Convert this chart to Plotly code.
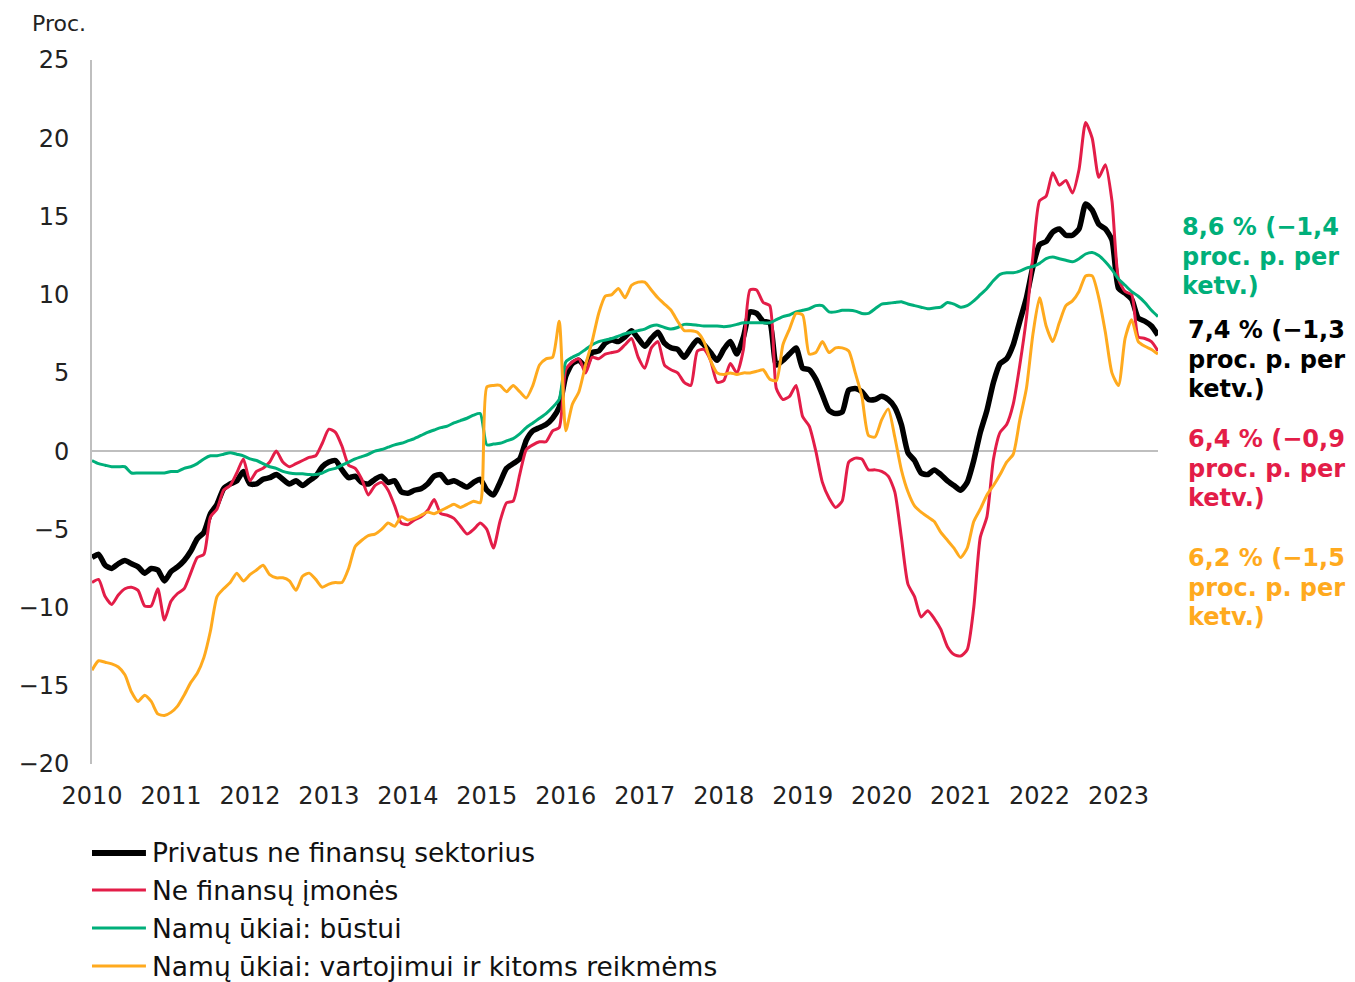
import plotly.graph_objects as go

# Monthly observations, Jan 2010 .. Jul 2023
start_year = 2010
n_months = 163
months = [start_year + i / 12 for i in range(n_months)]

privatus = [
    -6.8, -6.6, -7.3, -7.5, -7.2, -7.0, -7.2, -7.4, -7.8, -7.5, -7.6, -8.3,
    -7.7, -7.4, -7.0, -6.4, -5.6, -5.2, -4.0, -3.4, -2.4, -2.1, -1.9, -1.3,
    -2.1, -2.1, -1.8, -1.7, -1.5, -1.8, -2.1, -1.9, -2.2, -1.9, -1.6,
    -1.0, -0.7, -0.6, -1.2, -1.7, -1.6, -2.0, -2.1, -1.8, -1.6, -2.0, -1.9,
    -2.6, -2.7, -2.5, -2.4, -2.1, -1.6, -1.5, -2.0, -1.9, -2.1, -2.3, -2.0, -1.8,
    -2.5, -2.8, -2.0, -1.1, -0.8, -0.5, 0.7, 1.3, 1.5, 1.7, 2.1, 2.8,
    4.8, 5.6, 5.8, 5.4, 6.3, 6.4, 6.9, 7.1, 7.0, 7.3, 7.7, 7.2,
    6.7, 7.2, 7.6, 6.9, 6.6, 6.5, 6.0, 6.6, 7.1, 6.8, 6.3, 5.8,
    6.5, 7.0, 6.2, 7.3, 8.9, 8.8, 8.3, 8.2,
    5.5, 5.8, 6.2, 6.6, 5.3, 5.2, 4.6, 3.6, 2.6, 2.4, 2.5, 3.9,
    4.0, 3.8, 3.3, 3.3, 3.5, 3.3, 2.8, 1.7, -0.1, -0.6, -1.4, -1.5,
    -1.2, -1.5, -1.9, -2.2, -2.5, -2.0,
    -0.6, 1.2, 2.6, 4.4, 5.6, 5.9, 6.8, 8.3, 9.8, 11.8, 13.2, 13.4,
    14.0, 14.2, 13.8, 13.8, 14.2, 15.8, 15.4, 14.5, 14.2, 13.5, 10.4, 10.1,
    9.7, 8.5, 8.3, 8.0, 7.4,
]

imones = [
    -8.4, -8.2, -9.3, -9.8, -9.2, -8.8, -8.7, -8.9, -9.9, -9.9, -8.8, -10.8,
    -9.6, -9.1, -8.8, -7.8, -6.8, -6.6, -4.2, -3.7, -2.5, -2.2, -1.4, -0.5,
    -1.9, -1.3, -1.1, -0.7, 0.0, -0.7, -1.0, -0.8,
    -0.6, -0.4, -0.3, 0.5, 1.4, 1.2, 0.3, -0.9, -1.1, -1.8, -2.8, -2.2,
    -2.0, -2.5, -3.5, -4.6, -4.7, -4.4, -4.2, -3.8, -3.1, -4.0, -4.1, -4.3,
    -4.8, -5.3, -5.0, -4.6,
    -5.0, -6.2, -4.5, -3.3, -3.2, -1.5, 0.1, 0.4, 0.6, 0.6, 1.3, 1.5,
    5.2, 5.7, 5.9, 5.0, 6.0, 5.9, 6.2, 6.3, 6.4, 6.8, 7.2, 6.0,
    5.3, 6.6, 7.0, 5.5, 5.2, 5.0, 4.4, 4.2, 6.4, 6.5, 5.8, 4.4,
    4.5, 5.6, 5.0, 6.5, 10.3, 10.3, 9.5, 9.3, 4.0, 3.3, 3.5, 4.2,
    2.2, 1.6, 0.0, -2.0, -3.0, -3.6, -3.2, -0.7, -0.45, -0.5, -1.2,
    -1.2, -1.3, -1.6, -2.6, -5.5, -8.5, -9.3, -10.6, -10.2, -10.7, -11.4,
    -12.5, -13.0, -13.1, -12.7, -10.0, -5.5, -4.2,
    -0.5, 1.2, 1.7, 3.0, 5.5, 8.5, 12.5, 16.0, 16.3, 17.8, 17.0, 17.3,
    16.5, 18.0, 21.0, 20.0, 17.5, 18.3, 16.0, 11.0, 10.2, 10.0, 7.3, 7.2,
    7.0, 6.4,
]

bustui = [
    -0.6, -0.8, -0.9, -1.0, -1.0, -1.0, -1.4, -1.4, -1.4, -1.4, -1.4, -1.4,
    -1.3, -1.3, -1.1, -1.0, -0.8, -0.5, -0.3, -0.3, -0.2, -0.1, -0.2, -0.3,
    -0.5, -0.6, -0.8, -1.0, -1.1, -1.3, -1.4, -1.45,
    -1.45, -1.5, -1.5, -1.4, -1.2, -1.1, -0.9, -0.7, -0.5, -0.35, -0.2, 0.0,
    0.1, 0.25, 0.4, 0.5, 0.65, 0.8, 1.0, 1.2, 1.35, 1.5, 1.6, 1.8,
    1.95, 2.1, 2.3, 2.4,
    0.4, 0.45, 0.5, 0.65, 0.8, 1.1, 1.5, 1.8, 2.1, 2.4, 2.8, 3.3,
    5.7, 6.0, 6.2, 6.5, 6.8, 7.0, 7.1, 7.2, 7.35, 7.5, 7.6, 7.7,
    7.8, 8.0, 8.05, 7.9, 7.8, 7.9, 8.1, 8.1, 8.05, 8.0, 8.0, 8.0,
    7.95, 8.0, 8.1, 8.2, 8.2, 8.2, 8.2, 8.2, 8.4, 8.6, 8.7, 8.9,
    9.0, 9.1, 9.3, 9.3, 8.9, 8.9, 9.0, 9.0, 8.95, 8.8, 8.8,
    9.1, 9.4, 9.45, 9.5, 9.55, 9.4, 9.3, 9.2, 9.1, 9.15, 9.2,
    9.5, 9.4, 9.2, 9.3, 9.6, 10.0, 10.4, 10.9, 11.3, 11.4, 11.4, 11.5,
    11.7, 11.8, 12.0, 12.3, 12.4, 12.3, 12.2, 12.1, 12.3, 12.6, 12.7, 12.5,
    12.1, 11.6, 11.0, 10.6, 10.2, 9.9, 9.5, 9.0, 8.6,
]

vartojimui = [
    -14.0, -13.4, -13.5, -13.6, -13.8, -14.3, -15.4, -16.0, -15.6, -16.0, -16.8, -16.9,
    -16.7, -16.3, -15.6, -14.8, -14.2, -13.2, -11.5, -9.3, -8.8, -8.4, -7.8, -8.3,
    -7.9, -7.6, -7.3, -7.9, -8.1, -8.1, -8.3, -8.9, -8.0,
    -7.8, -8.2, -8.7, -8.5, -8.4, -8.4, -7.5, -6.1, -5.7, -5.4, -5.3, -5.0,
    -4.6, -4.8, -4.2, -4.4, -4.3, -4.1, -3.9, -4.0, -3.8, -3.6, -3.4, -3.6,
    -3.4, -3.2, -3.3,
    4.1, 4.2, 4.2, 3.8, 4.2, 3.8, 3.4, 4.2, 5.5, 5.9, 6.0, 8.3,
    1.3, 3.0, 3.8, 5.5, 7.0, 8.8, 9.9, 10.0, 10.4, 9.8, 10.6, 10.8,
    10.8, 10.3, 9.8, 9.4, 9.0, 8.3, 7.7, 7.7, 7.6, 7.0, 5.8, 5.0,
    4.9, 5.0, 4.9, 5.0, 5.0, 5.1, 5.2, 4.6, 4.5, 6.8, 7.8, 8.8,
    8.7, 6.2, 6.3, 7.0, 6.3, 6.6,
    6.6, 6.4, 5.0, 3.5, 1.0, 0.9, 2.0, 2.7, 0.9, -1.2, -2.6, -3.5,
    -3.9, -4.2, -4.5, -5.2, -5.7, -6.2, -6.8, -6.2, -4.5, -3.7, -2.8, -2.2, -1.5,
    -0.7, -0.2, 2.0, 4.0, 7.5, 9.8, 8.0, 7.0, 8.2, 9.3, 9.6, 10.2,
    11.2, 11.2, 9.8, 7.6, 5.0, 4.2, 7.2, 8.4, 7.0, 6.7, 6.5, 6.2,
]

series_names = [
    "Privatus ne finansų sektorius",
    "Ne finansų įmonės",
    "Namų ūkiai: būstui",
    "Namų ūkiai: vartojimui ir kitoms reikmėms",
]
series_values = [privatus, imones, bustui, vartojimui]
series_colors = ["#000000", "#E31D48", "#00AF7A", "#FFAA1E"]
series_widths = [5.5, 3, 3, 3]
legend_widths = [6, 3, 3, 3]

# End-of-series labels (one list of lines per label)
end_label_lines = [
    ["8,6 % (−1,4", "proc. p. per", "ketv.)"],
    ["7,4 % (−1,3", "proc. p. per", "ketv.)"],
    ["6,4 % (−0,9", "proc. p. per", "ketv.)"],
    ["6,2 % (−1,5", "proc. p. per", "ketv.)"],
]
end_label_colors = ["#00AF7A", "#000000", "#E31D48", "#FFAA1E"]
end_label_top_y = [14.32, 7.74, 0.77, -6.84]
end_label_step = 1.886
end_label_x = [1.0211, 1.0258, 1.0258, 1.0258]

year_ticks = list(range(2010, 2024))
y_ticks = [-20, -15, -10, -5, 0, 5, 10, 15, 20, 25]
y_tick_text = [("−" + str(abs(v))) if v < 0 else str(v) for v in y_ticks]

FONT = "DejaVu Sans"

fig = go.Figure()
for name, vals, col, w in zip(series_names, series_values, series_colors, series_widths):
    fig.add_trace(go.Scatter(
        x=months, y=vals, name=name, mode="lines",
        line=dict(color=col, width=w, shape="spline", smoothing=0.6),
        showlegend=False,
    ))

for lines, col, ytop, xv in zip(end_label_lines, end_label_colors, end_label_top_y, end_label_x):
    for j, txt in enumerate(lines):
        fig.add_annotation(
            x=xv, xref="paper", y=ytop - j * end_label_step, yref="y",
            text="<b>" + txt + "</b>",
            showarrow=False, xanchor="left", yanchor="middle", align="left",
            font=dict(family=FONT, size=24, color=col),
        )

# Legend drawn below the plot
legend_y = [-0.1264, -0.179, -0.233, -0.287]
for name, col, lw, ly in zip(series_names, series_colors, legend_widths, legend_y):
    fig.add_shape(type="line", xref="paper", yref="paper",
                  x0=0.0, x1=0.0506, y0=ly, y1=ly,
                  line=dict(color=col, width=lw))
    fig.add_annotation(
        x=0.0545, xref="paper", y=ly, yref="paper", text=name,
        showarrow=False, xanchor="left", yanchor="middle",
        font=dict(family=FONT, size=26.5, color="#111111"),
    )

fig.add_annotation(
    x=-0.0581, xref="paper", y=1.072, yref="paper", text="Proc.",
    showarrow=False, xanchor="left", yanchor="top",
    font=dict(family=FONT, size=22, color="#222222"),
)

fig.update_layout(
    width=1347, height=974,
    margin=dict(l=84, r=196.5, t=52, b=218),
    paper_bgcolor="white", plot_bgcolor="white",
    font=dict(family=FONT, size=24, color="#222222"),
    showlegend=False,
    xaxis=dict(
        range=[2010, 2023.5], tickmode="array", tickvals=year_ticks,
        ticktext=[str(y) for y in year_ticks],
        showgrid=False, zeroline=False, showline=False, ticks="",
        ticklabelstandoff=15,
        tickfont=dict(family=FONT, size=24, color="#222222"),
    ),
    yaxis=dict(
        range=[-20, 25], tickmode="array", tickvals=y_ticks, ticktext=y_tick_text,
        showgrid=False, zeroline=True, zerolinecolor="#BFBFBF", zerolinewidth=2,
        showline=True, linecolor="#BFBFBF", linewidth=2, ticks="",
        ticklabelstandoff=16,
        tickfont=dict(family=FONT, size=24, color="#222222"),
    ),
)

fig.write_html("out.html")
